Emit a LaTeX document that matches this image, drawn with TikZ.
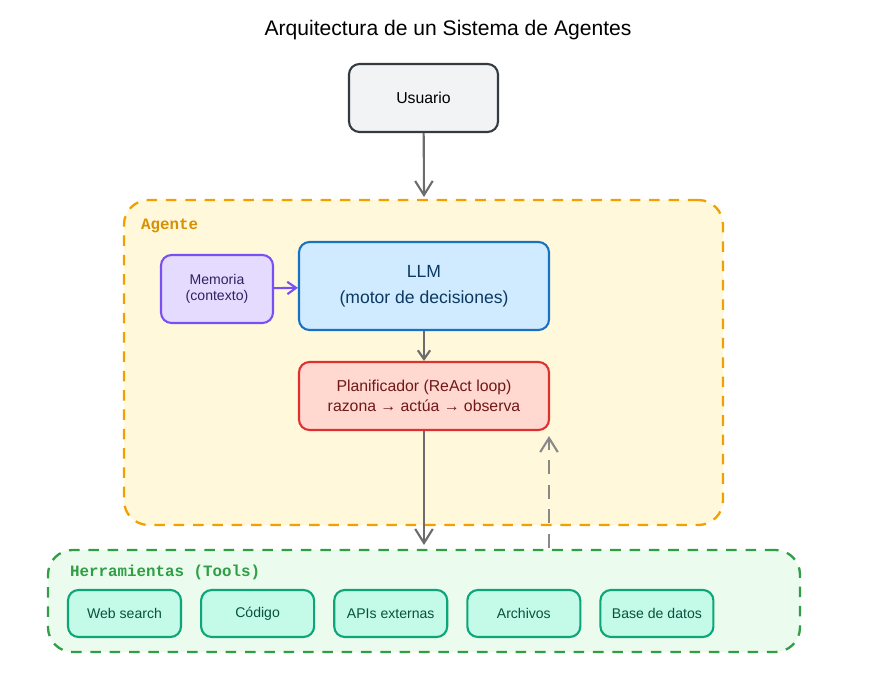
\documentclass[tikz,border=0pt]{standalone}
\usepackage{fontspec}
\setmainfont{Liberation Sans}
\newfontfamily\monofont{Liberation Mono}
\usetikzlibrary{positioning,arrows.meta}
\definecolor{usrfill}{HTML}{F1F3F5}
\definecolor{usrdraw}{HTML}{343A40}
\definecolor{agfill}{HTML}{FFF8DB}
\definecolor{agdraw}{HTML}{F0A000}
\definecolor{memfill}{HTML}{E5DBFF}
\definecolor{memdraw}{HTML}{7950F2}
\definecolor{llmfill}{HTML}{D0EBFF}
\definecolor{llmdraw}{HTML}{1971C2}
\definecolor{plnfill}{HTML}{FFD8D0}
\definecolor{plndraw}{HTML}{E03131}
\definecolor{toolfill}{HTML}{EBFBEE}
\definecolor{tooldraw}{HTML}{2F9E44}
\definecolor{tfill}{HTML}{C3FAE8}
\definecolor{tdraw}{HTML}{0CA678}
\definecolor{arrowgray}{HTML}{6C6C6C}
\tikzset{
  box/.style={rectangle, rounded corners=6pt, line width=1.2pt, align=center, font=\small},
  group/.style={rectangle, rounded corners=14pt, dashed, dash pattern=on 6pt off 5pt, line width=1.3pt},
  tool/.style={box, draw=tdraw, fill=tfill, text=tdraw!50!black, minimum width=2.26cm, minimum height=0.94cm, inner sep=1pt, font=\footnotesize},
  flow/.style={-{Straight Barb[length=8pt,width=10pt]}, line width=1.2pt, draw=arrowgray},
}
\begin{document}
\begin{tikzpicture}
  \useasboundingbox (0,0) rectangle (17.46,13.68);
  % Title
  \node[font=\large] (title) at (8.96,13.08) {Arquitectura de un Sistema de Agentes};

  % Containers
  \node[group, draw=agdraw, fill=agfill, minimum width=11.98cm, minimum height=6.5cm] (agente) at (8.47,6.43) {};
  \node[anchor=north west, font=\monofont\small\bfseries, text=agdraw!90!black] (agentelbl) at (2.7,9.42) {Agente};
  \node[group, draw=tooldraw, fill=toolfill, minimum width=15.04cm, minimum height=2.04cm] (herr) at (8.48,1.66) {};
  \node[anchor=north west, font=\monofont\small\bfseries, text=tooldraw] (herrlbl) at (1.28,2.5) {Herramientas (Tools)};

  % Nodes
  \node[box, draw=usrdraw, fill=usrfill, minimum width=2.98cm, minimum height=1.36cm] (usuario) at (8.47,11.72) {Usuario};
  \node[box, draw=memdraw, fill=memfill, text=memdraw!40!black, minimum width=2.24cm, minimum height=1.36cm, font=\footnotesize] (memoria) at (4.34,7.9) {Memoria\\(contexto)};
  \node[box, draw=llmdraw, fill=llmfill, text=llmdraw!50!black, minimum width=5cm, minimum height=1.76cm, font=\normalsize] (llm) at (8.48,7.96) {LLM\\[3pt](motor de decisiones)};
  \node[box, draw=plndraw, fill=plnfill, text=plndraw!50!black, minimum width=5cm, minimum height=1.36cm] (plan) at (8.48,5.76) {Planificador (ReAct loop)\\razona → actúa → observa};

  % Tools
  \node[tool] (web) at (2.49,1.41) {Web search};
  \node[tool, right=0.36cm of web] (codigo) {Código};
  \node[tool, right=0.36cm of codigo] (apis) {APIs externas};
  \node[tool, right=0.36cm of apis] (archivos) {Archivos};
  \node[tool, right=0.36cm of archivos] (bdatos) {Base de datos};

  % Connectors
  \coordinate (agtop) at (8.48,9.74);
  \coordinate (herrtop) at (8.48,2.78);
  \coordinate (retstart) at (10.98,2.72);
  \draw[flow] (usuario) -- (agtop);
  \draw[flow, draw=memdraw, -{Straight Barb[length=5pt,width=7pt]}] (memoria) -- (llm);
  \draw[flow, -{Straight Barb[length=5pt,width=7pt]}] (llm) -- (plan);
  \draw[flow] (plan) -- (herrtop);
  \draw[flow, dashed, dash pattern=on 8pt off 6pt, draw=arrowgray!80] (retstart) -- ([yshift=-0.1cm]plan.south east -| retstart);
\end{tikzpicture}
\end{document}
